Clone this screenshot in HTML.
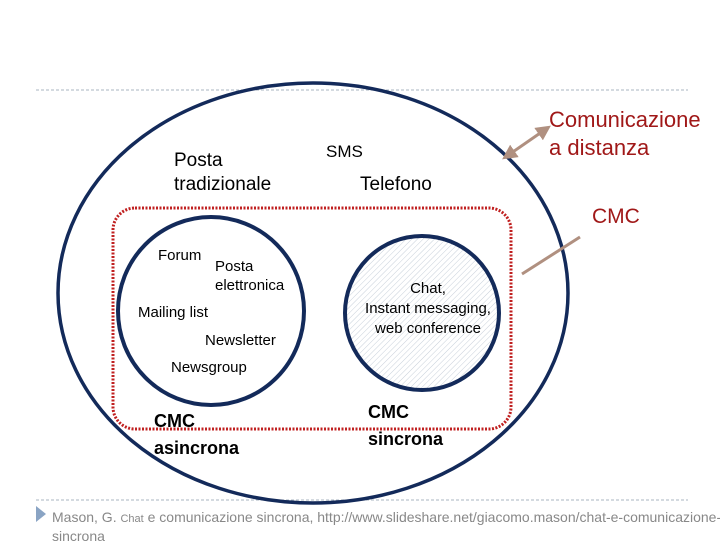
<!DOCTYPE html>
<html><head><style>
body{margin:0;width:720px;height:540px;background:#fff;overflow:hidden;position:relative;font-family:"Liberation Sans",sans-serif}
.t{position:absolute;font-size:15px;color:#000;line-height:1.3;white-space:nowrap}
</style></head><body>
<svg width="720" height="540" style="position:absolute;left:0;top:0">
<defs>
<pattern id="h" width="4" height="4" patternUnits="userSpaceOnUse" patternTransform="rotate(45)"><line x1="0" y1="0" x2="0" y2="4" stroke="#c8d0da" stroke-width="1"/></pattern>
<marker id="a" markerWidth="5" markerHeight="5" refX="3" refY="2.5" orient="auto-start-reverse"><path d="M0,0 L5,2.5 L0,5z" fill="#b09080"/></marker>
</defs>
<line x1="36" y1="90" x2="688" y2="90" stroke="#a8b4c0" stroke-dasharray="3,2"/>
<line x1="36" y1="500" x2="688" y2="500" stroke="#a8b4c0" stroke-dasharray="3,2"/>
<ellipse cx="313" cy="293" rx="255" ry="210" fill="none" stroke="#132a5a" stroke-width="3.5"/>
<rect x="113" y="208" width="398" height="221" rx="22" fill="none" stroke="#c02020" stroke-width="3" stroke-dasharray="2,1.5"/>
<ellipse cx="211" cy="311" rx="93" ry="94" fill="none" stroke="#132a5a" stroke-width="4"/>
<ellipse cx="422" cy="313" rx="77" ry="77" fill="url(#h)" stroke="#132a5a" stroke-width="4"/>
<line x1="507" y1="156" x2="546" y2="129" stroke="#b09080" stroke-width="3" marker-start="url(#a)" marker-end="url(#a)"/>
<line x1="522" y1="274" x2="580" y2="237" stroke="#b09080" stroke-width="3"/>
<polygon points="36,506 46,514 36,522" fill="#8aa4c4"/>
</svg>
<div class="t" style="left:174px;top:149px;font-size:19px;line-height:24px">Posta<br>tradizionale</div>
<div class="t" style="left:326px;top:141px;font-size:17px">SMS</div>
<div class="t" style="left:360px;top:173px;font-size:19px">Telefono</div>
<div class="t" style="left:549px;top:106px;font-size:22px;color:#a01818;line-height:28px">Comunicazione<br>a distanza</div>
<div class="t" style="left:592px;top:203px;font-size:21px;color:#a01818">CMC</div>
<div class="t" style="left:158px;top:246px">Forum</div>
<div class="t" style="left:215px;top:257px;line-height:19px">Posta<br>elettronica</div>
<div class="t" style="left:138px;top:303px">Mailing list</div>
<div class="t" style="left:205px;top:331px">Newsletter</div>
<div class="t" style="left:171px;top:358px">Newsgroup</div>
<div class="t" style="left:360px;top:279px;text-align:center;width:136px;line-height:20px">Chat,<br>Instant messaging,<br>web conference</div>
<div class="t" style="left:154px;top:408px;font-size:18px;font-weight:bold;line-height:27px">CMC<br>asincrona</div>
<div class="t" style="left:368px;top:399px;font-size:18px;font-weight:bold;line-height:27px">CMC<br>sincrona</div>
<div class="t" style="left:52px;top:509px;font-size:14px;color:#888;line-height:17px">Mason, G. <span style="font-size:11px">Chat</span> e comunicazione sincrona, http://www.slideshare.net/giacomo.mason/chat-e-comunicazione-<br>sincrona</div>
</body></html>
